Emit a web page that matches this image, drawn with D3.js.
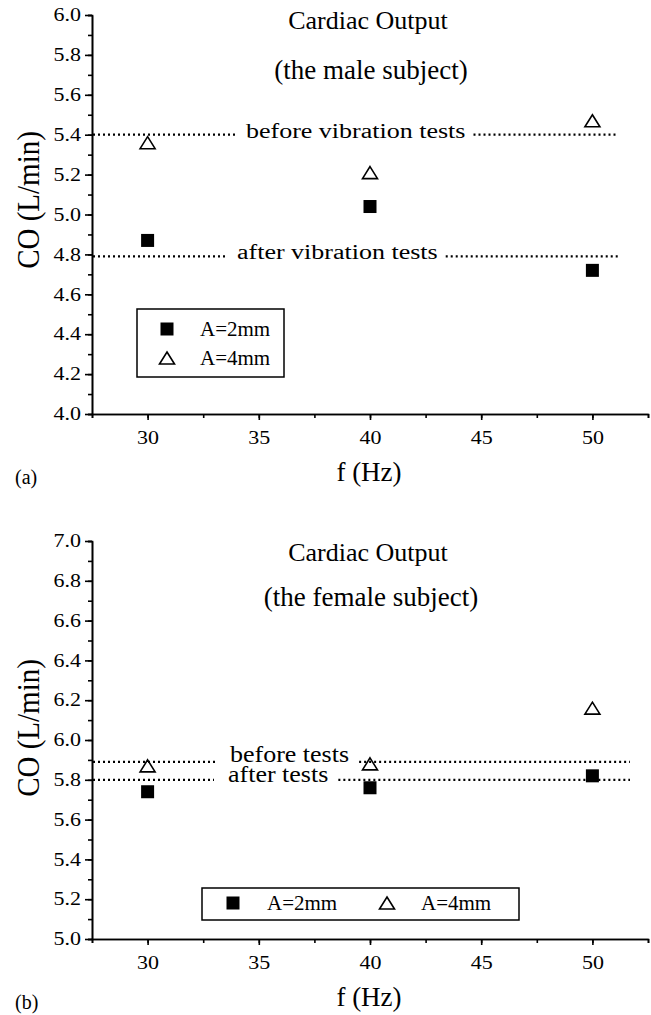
<!DOCTYPE html>
<meta charset="utf-8">
<style>
body { margin: 0; background: #fff; }
text { font-family: "Liberation Serif", "Times New Roman", serif; fill: #000; }
.axis path, .axis line { stroke: #000; stroke-width: 1.6; }
.axis text { font-size: 22px; font-family: "Liberation Serif", serif; }
.ref { stroke: #000; stroke-width: 2.2; stroke-dasharray: 2,3; fill: none; }
</style>
<svg width="651" height="1015"></svg>
<script src="https://d3js.org/d3.v7.min.js"></script>
<script>

// data
var freq = [30, 40, 50];
var maleA2 = [4.87, 5.04, 4.72];
var maleA4 = [5.36, 5.21, 5.47];
var femaleA2 = [5.74, 5.76, 5.82];
var femaleA4 = [5.87, 5.88, 6.16];

var maleRefValues = [5.40, 4.79];
var maleRefLabels = ["before vibration tests", "after vibration tests"];
var femaleRefValues = [5.89, 5.80];
var femaleRefLabels = ["before tests", "after tests"];

var xTicks = [30, 35, 40, 45, 50];
var maleYTicks = [4.0, 4.2, 4.4, 4.6, 4.8, 5.0, 5.2, 5.4, 5.6, 5.8, 6.0];
var femaleYTicks = [5.0, 5.2, 5.4, 5.6, 5.8, 6.0, 6.2, 6.4, 6.6, 6.8, 7.0];
var legendLabels = ["A=2mm", "A=4mm"];

var svg = d3.select("svg");

var x = d3.scaleLinear().domain([27.5, 52.5]).range([92, 648]);

// the scanned figure is a bit flattened, so some texts get squashed vertically
function squash(sel, sy) {
  sel.each(function() {
    var t = d3.select(this);
    var tx = +t.attr("x") || 0, ty = +t.attr("y") || 0;
    t.attr("x", null).attr("y", null)
      .attr("transform", "translate(" + tx + "," + ty + ") scale(1," + sy + ")");
  });
}

function triangle(cx, cy) {
  return "M" + cx + "," + (cy - 6) + "L" + (cx + 7.5) + "," + (cy + 6) + "L" + (cx - 7.5) + "," + (cy + 6) + "Z";
}

function drawMarker(g, kind, cx, cy) {
  if (kind == "sq") {
    g.append("rect").attr("x", cx - 6.5).attr("y", cy - 6.5)
      .attr("width", 13).attr("height", 13).attr("fill", "#000");
  } else {
    g.append("path").attr("d", triangle(cx, cy))
      .attr("fill", "none").attr("stroke", "#000").attr("stroke-width", 1.6);
  }
}

function panel(p) {
  var g = svg.append("g");
  var y = d3.scaleLinear().domain(p.yDomain).range(p.yRange);
  var yMinor = d3.range(p.yDomain[0], p.yDomain[1] + 0.001, 0.1);
  var xMinor = d3.range(27.5, 52.6, 2.5);

  // minor ticks first
  g.append("g").attr("class", "axis")
    .attr("transform", "translate(" + x.range()[0] + ",0)")
    .call(d3.axisLeft(y).tickValues(yMinor).tickSize(4).tickFormat(""));
  g.append("g").attr("class", "axis")
    .attr("transform", "translate(0," + p.yRange[0] + ")")
    .call(d3.axisBottom(x).tickValues(xMinor).tickSize(4).tickFormat(""));

  var ya = g.append("g").attr("class", "axis")
    .attr("transform", "translate(" + x.range()[0] + ",0)")
    .call(d3.axisLeft(y).tickValues(p.yTicks).tickSize(7).tickSizeOuter(0).tickPadding(4).tickFormat(d3.format(".1f")));
  var xa = g.append("g").attr("class", "axis")
    .attr("transform", "translate(0," + p.yRange[0] + ")")
    .call(d3.axisBottom(x).tickValues(xTicks).tickSize(6).tickSizeOuter(0).tickPadding(10).tickFormat(d3.format("d")));
  squash(ya.selectAll(".tick text"), 0.82);
  squash(xa.selectAll(".tick text"), 0.88);

  // titles
  g.append("text").attr("x", 368).attr("y", p.titleY[0]).attr("text-anchor", "middle")
    .style("font-size", "26px").text("Cardiac Output");
  g.append("text").attr("x", 371).attr("y", p.titleY[1]).attr("text-anchor", "middle")
    .style("font-size", "27px").text(p.subtitle);

  // axis labels
  g.append("text").attr("transform", "translate(39," + p.labelMid + ") rotate(-90) scale(1,1.1)")
    .attr("text-anchor", "middle").style("font-size", "29px").text("CO (L/min)");
  g.append("text").attr("x", 369).attr("y", p.yRange[0] + 67).attr("text-anchor", "middle")
    .style("font-size", "27px").text("f (Hz)");
  g.append("text").attr("x", 15).attr("y", p.yRange[0] + 70)
    .style("font-size", "20px").text(p.tag);

  // reference lines, broken by their text
  p.refValues.forEach(function(v, i) {
    var yy = y(v);
    var t = g.append("text").attr("x", p.refTextX[i]).attr("y", yy + p.refTextDy[i])
      .style("font-size", "26px").text(p.refLabels[i]);
    var len = t.node().getComputedTextLength();
    squash(t, p.refSquash);
    g.append("line").attr("class", "ref")
      .attr("x1", x.range()[0] + 1).attr("x2", p.refTextX[i] - p.gap[0])
      .attr("y1", yy).attr("y2", yy);
    g.append("line").attr("class", "ref")
      .attr("x1", p.refTextX[i] + len + p.gap[1]).attr("x2", p.refEnd)
      .attr("y1", yy).attr("y2", yy);
  });

  // points
  freq.forEach(function(f, i) {
    drawMarker(g, "sq", x(f), y(p.a2[i]));
    drawMarker(g, "tri", x(f), y(p.a4[i]));
  });

  // legend
  var L = p.legend;
  g.append("rect").attr("x", L.x).attr("y", L.y).attr("width", L.w).attr("height", L.h)
    .attr("fill", "#fff").attr("stroke", "#000").attr("stroke-width", 1.5);
  legendLabels.forEach(function(lab, i) {
    var mx = L.mx[i], my = L.my[i];
    drawMarker(g, i == 0 ? "sq" : "tri", mx, my);
    g.append("text").attr("x", mx + L.tx).attr("y", my + 7)
      .style("font-size", "21px").text(lab);
  });
}

panel({
  yDomain: [4.0, 6.0], yRange: [414, 15], yTicks: maleYTicks,
  subtitle: "(the male subject)", titleY: [29, 79], tag: "(a)", labelMid: 200,
  a2: maleA2, a4: maleA4,
  refValues: maleRefValues, refLabels: maleRefLabels, refSquash: 0.8,
  refTextX: [246, 237], refTextDy: [3, 3], gap: [10, 8], refEnd: 618,
  legend: { x: 137, y: 309, w: 147, h: 68, mx: [167, 167], my: [329, 358], tx: 33 }
});

panel({
  yDomain: [5.0, 7.0], yRange: [939, 541], yTicks: femaleYTicks,
  subtitle: "(the female subject)", titleY: [561, 606], tag: "(b)", labelMid: 728,
  a2: femaleA2, a4: femaleA4,
  refValues: femaleRefValues, refLabels: femaleRefLabels, refSquash: 0.86,
  refTextX: [230, 228], refTextDy: [0, 2], gap: [14, 10], refEnd: 630,
  legend: { x: 202, y: 888, w: 317, h: 32, mx: [233, 387], my: [903, 903], tx: 34 }
});

</script>
